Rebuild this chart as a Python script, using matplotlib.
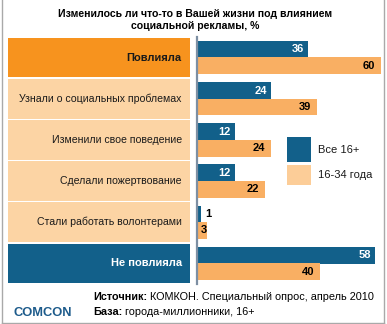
import matplotlib
matplotlib.use('Agg')
import matplotlib.pyplot as plt
from matplotlib.patches import Rectangle
from matplotlib.lines import Line2D

categories = ["Повлияла", "Узнали о социальных проблемах", "Изменили свое поведение",
              "Сделали пожертвование", "Стали работать волонтерами", "Не повлияла"]
all16 = [36, 24, 12, 12, 1, 58]
young = [60, 39, 24, 22, 3, 40]
series_names = ["Все 16+", "16-34 года"]
title_lines = ["Изменилось ли что-то в Вашей жизни под влиянием", "социальной рекламы, %"]

BLUE = '#12608A'
ORANGE = '#F7931E'
LIGHT = '#F9AF63'
PEACH = '#FCD4A4'

plt.rcParams['font.family'] = ['Liberation Sans', 'DejaVu Sans']

W, H = 387, 324
fig = plt.figure(figsize=(W / 100, H / 100), dpi=100)
fig.patch.set_facecolor('white')


def px_axes(l, t, w, h):
    return fig.add_axes([l / W, 1 - (t + h) / H, w / W, h / H])


def fx(x):
    return x / W


def fy(y):
    return 1 - y / H


n = len(categories)
ys = list(range(n))

# left label panel
axL = px_axes(8, 37, 182, 247)
axL.set_xlim(0, 1)
axL.set_ylim(n - 0.5, -0.5)
row_colors = [ORANGE] + [PEACH] * (n - 2) + [BLUE]
axL.barh(ys, [1] * n, height=0.96, color=row_colors, left=0)
axL.axis('off')
for i, c in enumerate(categories):
    bold = i in (0, n - 1)
    col = 'white' if i == n - 1 else '#1a1a1a'
    axL.text(0.955, i, c, ha='right', va='center', fontsize=7.6 if not bold else 8,
             fontweight='bold' if bold else 'normal', color=col)

# bar panel
axB = px_axes(197, 37, 186, 247)
axB.set_xlim(0, 61)
axB.set_ylim(n - 0.5, -0.5)
axB.barh([y - 0.2 for y in ys], all16, height=0.41, color=BLUE, left=0.4)
axB.barh([y + 0.2 for y in ys], young, height=0.41, color=LIGHT, left=0.4)
for s in ['top', 'right', 'bottom']:
    axB.spines[s].set_visible(False)
axB.spines['left'].set_color('#7D8FA3')
axB.spines['left'].set_linewidth(1.6)
axB.set_xticks([])
axB.set_yticks([])
axB.patch.set_alpha(0)

for i in ys:
    v = all16[i]
    if v < 5:
        axB.text(v + 1.8, i - 0.2, str(v), ha='left', va='center', fontsize=8,
                 fontweight='bold', color='black')
    else:
        axB.text(v - 1.0, i - 0.2, str(v), ha='right', va='center', fontsize=8,
                 fontweight='bold', color='white')
    v = young[i]
    if v < 5:
        axB.text(v + 0.1, i + 0.2, str(v), ha='right', va='center', fontsize=8,
                 fontweight='bold', color='black')
    else:
        axB.text(v - 1.5, i + 0.2, str(v), ha='right', va='center', fontsize=8,
                 fontweight='bold', color='black')

# legend
fig.add_artist(Rectangle((fx(287), fy(162)), fx(24), 25 / H, transform=fig.transFigure,
                         facecolor=BLUE, edgecolor='none', zorder=5))
fig.add_artist(Rectangle((fx(287), fy(185)), fx(24), 20 / H, transform=fig.transFigure,
                         facecolor='#FCCD98', edgecolor='none', zorder=5))
fig.text(fx(318), fy(150), series_names[0], ha='left', va='center', fontsize=8, color='#1a1a1a')
fig.text(fx(318), fy(175), series_names[1], ha='left', va='center', fontsize=8, color='#1a1a1a')

# title
fig.text(fx(195), fy(14), title_lines[0], ha='center', va='center', fontsize=7.6, fontweight='bold')
fig.text(fx(195), fy(26), title_lines[1], ha='center', va='center', fontsize=7.6, fontweight='bold')

# footer
t1 = fig.text(fx(93), fy(297), "Источник:", ha='left', va='center', fontsize=7.8, fontweight='bold')
axB.annotate(" КОМКОН. Специальный опрос, апрель 2010", xy=(1, 0.5), xycoords=t1,
             ha='left', va='center', fontsize=7.8, annotation_clip=False)
t2 = fig.text(fx(93), fy(312), "База:", ha='left', va='center', fontsize=7.8, fontweight='bold')
axB.annotate(" города-миллионники, 16+", xy=(1, 0.5), xycoords=t2,
             ha='left', va='center', fontsize=7.8, annotation_clip=False)

fig.text(fx(13), fy(313), "COMCON", ha='left', va='center', fontsize=9.3, fontweight='bold',
         color='#1D5B8B')

# frame
fc = '#A9A9A9'
fig.add_artist(Line2D([fx(1.5), fx(1.5)], [fy(0), fy(322.5)], transform=fig.transFigure, color=fc, lw=1))
fig.add_artist(Line2D([fx(383.5), fx(383.5)], [fy(0), fy(322.5)], transform=fig.transFigure, color=fc, lw=1))
fig.add_artist(Line2D([fx(1.5), fx(383.5)], [fy(322.5), fy(322.5)], transform=fig.transFigure, color=fc, lw=1))

fig.savefig('out.png', dpi=100, facecolor='white')
